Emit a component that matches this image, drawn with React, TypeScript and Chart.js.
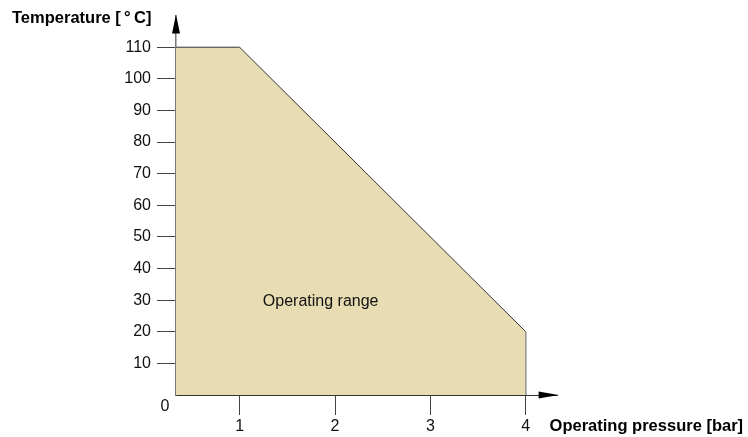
import React, { useEffect, useRef } from "react";
import { Chart, registerables } from "chart.js";

Chart.register(...registerables);

// Boundary of the operating range (pressure in bar, temperature in °C)
const pressure = [1 / 3, 1, 4, 4];
const temperature = [110, 110, 20, 0];
const xTicks = [1, 2, 3, 4];
const yTicks = [10, 20, 30, 40, 50, 60, 70, 80, 90, 100, 110];
const xRange = [1 / 3, 13 / 3];
const yRange = [0, 120];
const xTitle = "Operating pressure [bar]";
const yTitle = "Temperature [\u2009°\u2009C]";
const areaLabel = "Operating range";
const areaLabelAt = [1.85, 29.4];
const originLabel = "0";

const FONT = "'Liberation Sans', Arial, Helvetica, sans-serif";

const decorPlugin = {
  id: "decor",
  afterDraw(chart: any) {
    const ctx = chart.ctx;
    const xs = chart.scales.x;
    const ys = chart.scales.y;
    const x0 = xs.getPixelForValue(xRange[0]);
    const xEnd = xs.getPixelForValue(xRange[1]);
    const y0 = ys.getPixelForValue(yRange[0]);
    const yEnd = ys.getPixelForValue(yRange[1]);
    ctx.save();
    ctx.fillStyle = "#000";
    // y arrow
    ctx.beginPath();
    ctx.moveTo(x0, yEnd - 1);
    ctx.lineTo(x0 - 4, yEnd + 18);
    ctx.lineTo(x0 + 4, yEnd + 18);
    ctx.closePath();
    ctx.fill();
    // x arrow
    ctx.beginPath();
    ctx.moveTo(xEnd + 1, y0);
    ctx.lineTo(xEnd - 19, y0 - 3.5);
    ctx.lineTo(xEnd - 19, y0 + 3.5);
    ctx.closePath();
    ctx.fill();
    // texts
    ctx.fillStyle = "#111";
    ctx.font = `16px ${FONT}`;
    ctx.textAlign = "center";
    ctx.textBaseline = "middle";
    ctx.fillText(originLabel, x0 - 11, y0 + 12);
    ctx.fillText(
      areaLabel,
      xs.getPixelForValue(areaLabelAt[0]),
      ys.getPixelForValue(areaLabelAt[1])
    );
    ctx.fillStyle = "#000";
    ctx.font = `bold 16.5px ${FONT}`;
    ctx.textAlign = "left";
    ctx.textBaseline = "alphabetic";
    ctx.fillText(yTitle, 12, 22.5);
    ctx.fillText(xTitle, xEnd - 8, y0 + 36);
    ctx.restore();
  },
};

export default function App() {
  const ref = useRef<HTMLCanvasElement | null>(null);
  useEffect(() => {
    document.body.style.margin = "0";
    const canvas = ref.current;
    if (!canvas) return;
    const chart = new Chart(canvas, {
      type: "scatter",
      data: {
        datasets: [
          {
            data: pressure.map((p, i) => ({ x: p, y: temperature[i] })),
            showLine: true,
            fill: "origin",
            backgroundColor: "rgb(232,221,178)",
            borderColor: "#333",
            borderWidth: 1,
            pointRadius: 0,
            tension: 0,
            segment: {
              borderColor: (c: any) => (c.p0DataIndex === 2 ? "#999" : "#333"),
            },
          } as any,
        ],
      },
      options: {
        responsive: false,
        animation: false,
        layout: { padding: { left: 0, top: 15, right: 748 - 557.6, bottom: 0 } },
        plugins: {
          legend: { display: false },
          tooltip: { enabled: false },
        },
        scales: {
          x: {
            type: "linear",
            min: xRange[0],
            max: xRange[1],
            afterBuildTicks: (s: any) => {
              s.ticks = xTicks.map((v) => ({ value: v }));
            },
            afterFit: (s: any) => {
              s.height = 42;
            },
            grid: {
              drawOnChartArea: false,
              drawTicks: true,
              tickLength: 20,
              color: "#444",
              lineWidth: 1,
            },
            border: { display: true, color: "#333", width: 1 },
            ticks: {
              font: { size: 16, family: FONT },
              color: "#111",
              padding: 2,
              maxRotation: 0,
              autoSkip: false,
            },
          },
          y: {
            type: "linear",
            min: yRange[0],
            max: yRange[1],
            afterBuildTicks: (s: any) => {
              s.ticks = yTicks.map((v) => ({ value: v }));
            },
            afterFit: (s: any) => {
              s.width = 176;
            },
            grid: {
              drawOnChartArea: false,
              drawTicks: true,
              tickLength: 19,
              color: "#444",
              lineWidth: 1,
            },
            border: { display: true, color: "#777", width: 1.5 },
            ticks: {
              font: { size: 16, family: FONT },
              color: "#111",
              padding: 6,
              autoSkip: false,
            },
          },
        },
      } as any,
      plugins: [decorPlugin],
    });
    return () => chart.destroy();
  }, []);
  return (
    <canvas
      ref={ref}
      width={748}
      height={437}
      style={{ position: "absolute", left: 0, top: 0, display: "block" }}
    />
  );
}
